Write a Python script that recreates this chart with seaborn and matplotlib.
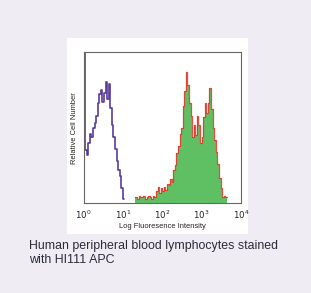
import numpy as np
import pandas as pd
import matplotlib
matplotlib.use("Agg")
import matplotlib.pyplot as plt
import seaborn as sns
from matplotlib.patches import Rectangle

# ---- data (relative cell number per log-decade bin) ----
bin_width = 0.04  # log10 units
purple_start = 0.0
purple_counts = [1.00, 0.35, 0.32, 0.40, 0.46, 0.44, 0.50, 0.53, 0.58, 0.66,
                 0.72, 0.75, 0.67, 0.73, 0.80, 0.69, 0.79, 0.63, 0.52, 0.44,
                 0.36, 0.28, 0.22, 0.18, 0.10, 0.03]
green_start = 1.32
green_counts = [0.04, 0.03, 0.05, 0.04, 0.04, 0.05, 0.03, 0.04, 0.05, 0.04,
                0.03, 0.05, 0.04,
                0.08, 0.11, 0.07, 0.10, 0.08, 0.11, 0.09, 0.13, 0.12, 0.16,
                0.14, 0.22, 0.25, 0.33, 0.38, 0.46, 0.50, 0.64, 0.74, 0.87,
                0.78, 0.66, 0.58, 0.44, 0.52, 0.45, 0.58, 0.52, 0.40, 0.44,
                0.57, 0.66, 0.60, 0.66, 0.76, 0.62, 0.50, 0.42, 0.34, 0.26,
                0.17, 0.10, 0.04, 0.05, 0.04]
tick_values = [1, 10, 100, 1000, 10000]
tick_labels = [r"$10^{0}$", r"$10^{1}$", r"$10^{2}$", r"$10^{3}$", r"$10^{4}$"]
x_label = "Log Fluoresence Intensity"
y_label = "Relative Cell Number"
caption = "Human peripheral blood lymphocytes stained\nwith HI111 APC"


def to_frame(start, counts):
    n = len(counts)
    centers = start + bin_width * (np.arange(n) + 0.5)
    return pd.DataFrame({"x": 10 ** centers, "w": counts}), (start, start + bin_width * n)


purple_df, purple_range = to_frame(purple_start, purple_counts)
green_df, green_range = to_frame(green_start, green_counts)

sns.set_style("white")
plt.rcParams["font.family"] = ["Liberation Sans", "DejaVu Sans"]

fig = plt.figure(figsize=(3.11, 2.93), dpi=100)
fig.patch.set_facecolor("#efedf3")
fig.patches.append(Rectangle((67 / 311, 1 - 234 / 293), 181 / 311, 196 / 293,
                             transform=fig.transFigure, facecolor="white",
                             edgecolor="none", zorder=-5))

ax = fig.add_axes([83.5 / 311, 1 - 203.3 / 293, 157.5 / 311, 151.3 / 293])
ax.set_zorder(2)
ax.set_facecolor("white")

sns.histplot(data=green_df, x="x", weights="w", binwidth=bin_width,
             binrange=green_range, log_scale=True, element="step", fill=True,
             color="#5fbf63", alpha=1.0, linewidth=0, ax=ax)
sns.histplot(data=green_df, x="x", weights="w", binwidth=bin_width,
             binrange=green_range, log_scale=True, element="step", fill=False,
             color="#e8382e", linewidth=0.9, alpha=0.9, ax=ax)
sns.histplot(data=purple_df, x="x", weights="w", binwidth=bin_width,
             binrange=purple_range, log_scale=True, element="step", fill=False,
             color="#5a3b9e", linewidth=1.2, ax=ax)

ax.set_xlim(1, 10000)
ax.set_ylim(0, 1.0)
ax.set_xticks(tick_values)
ax.set_xticklabels(tick_labels, fontsize=6.2, color="#222222")
ax.minorticks_off()
ax.set_yticks([])
ax.tick_params(axis="x", length=0, pad=4)
ax.set_xlabel(x_label, fontsize=5.4, color="#222222", labelpad=1)
ax.set_ylabel(y_label, fontsize=5.4, color="#222222", labelpad=4)
for s in ax.spines.values():
    s.set_visible(True)
    s.set_color("#666666")
    s.set_linewidth(0.8)

fig.text(29 / 311, 1 - 240 / 293, caption, fontsize=8.9, color="#2b2b3a",
         ha="left", va="top", linespacing=1.25)

fig.savefig("out.png", dpi=100, facecolor=fig.get_facecolor())
